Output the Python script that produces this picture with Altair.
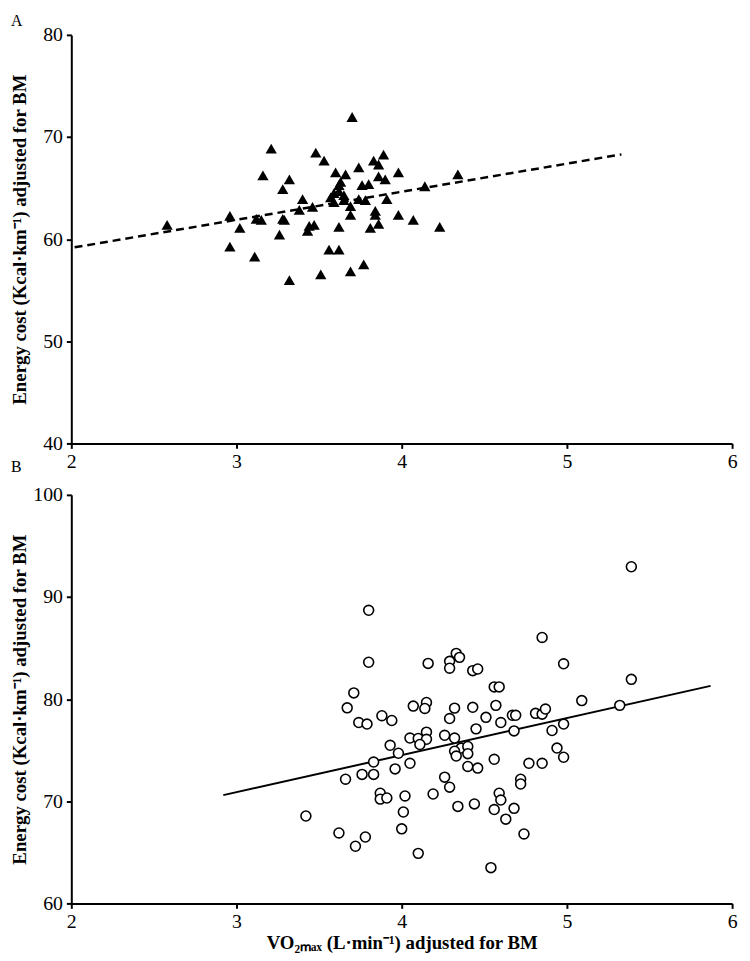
import altair as alt
import pandas as pd

# Panel A data (triangles)
a_x = [3.21, 3.16, 3.32, 3.28, 3.48, 3.53, 3.60, 3.66, 3.62, 3.62, 3.57, 3.40, 3.46, 3.38,
       2.96, 3.12, 3.15, 3.28, 3.29, 3.02, 3.44, 3.47, 3.43, 3.26, 2.96, 3.11, 3.56, 3.62,
       3.51, 3.32, 3.70, 3.74, 3.83, 3.89, 3.86, 3.98, 3.86, 3.90, 3.76, 3.80, 3.65, 3.59,
       3.69, 3.74, 3.78, 3.91, 3.69, 3.84, 3.84, 4.34, 4.14, 3.98, 4.07, 3.62, 3.81, 3.86,
       4.23, 3.77, 3.69, 2.58, 3.63, 3.59, 3.65]
a_y = [68.86, 66.25, 65.86, 64.89, 68.47, 67.70, 66.54, 66.34, 65.28, 64.70, 64.10, 63.92,
       63.15, 62.86, 62.28, 61.99, 61.89, 61.99, 61.89, 61.11, 61.31, 61.40, 60.82, 60.44,
       59.27, 58.30, 58.98, 58.98, 56.56, 55.98, 71.96, 67.02, 67.70, 68.28, 67.31, 66.54,
       66.15, 65.86, 65.28, 65.38, 63.83, 63.63, 63.24, 63.92, 63.83, 63.92, 62.37, 62.76,
       62.37, 66.34, 65.18, 62.37, 61.89, 61.21, 61.11, 61.50, 61.21, 57.53, 56.85, 61.40,
       65.60, 64.50, 64.30]
a_line_x = [2.02, 5.33]
a_line_y = [59.2, 68.3]

# Panel B data (open circles)
b_x = [3.80, 3.80, 4.16, 4.29, 4.29, 4.33, 4.35, 3.71, 3.67, 3.74, 3.79, 3.88, 3.94, 4.07,
       4.15, 4.14, 4.32, 4.29, 3.93, 3.98, 4.05, 4.10, 4.15, 4.15, 4.11, 4.26, 4.32, 4.36,
       4.32, 4.33, 3.83, 3.83, 3.76, 3.66, 3.96, 4.05, 4.26, 4.29, 3.87, 3.87, 3.91, 4.02,
       4.19, 4.34, 4.01,
       5.39, 4.85, 4.98, 5.39, 4.43, 4.46, 4.56, 4.59, 5.09, 5.32, 4.43, 4.57, 4.51, 4.60,
       4.67, 4.69, 4.81, 4.85, 4.87, 4.98, 4.91, 4.68, 4.45, 4.40, 4.40, 4.40, 4.46, 4.56,
       4.94, 4.98, 4.77, 4.85, 4.72, 4.72, 4.59, 4.60, 4.56, 4.68, 4.63, 4.44,
       3.42, 3.62, 3.72, 3.78, 4.00, 4.10, 4.54, 4.74]
b_y = [88.70, 83.61, 83.50, 83.70, 83.03, 84.48, 84.09, 80.61, 79.15, 77.71, 77.56, 78.38,
       77.91, 79.32, 79.67, 79.09, 79.12, 78.10, 75.48, 74.70, 76.19, 76.15, 76.77, 76.07,
       75.56, 76.46, 76.19, 75.21, 74.90, 74.43, 73.84, 72.63, 72.63, 72.16, 73.17, 73.72,
       72.36, 71.38, 70.79, 70.21, 70.32, 70.52, 70.71, 69.50, 68.95,
       92.96, 86.04, 83.46, 81.94, 82.79, 82.95, 81.20, 81.20, 79.86, 79.39, 79.20, 79.39,
       78.22, 77.71, 78.42, 78.42, 78.61, 78.53, 79.03, 77.56, 76.93, 76.89, 77.09, 75.37,
       74.66, 73.41, 73.25, 74.11, 75.21, 74.31, 73.72, 73.72, 72.16, 71.69, 70.79, 70.12,
       69.19, 69.31, 68.25, 69.74,
       68.56, 66.90, 65.60, 66.50, 67.30, 64.90, 63.50, 66.80]
b_line_x = [2.92, 5.87]
b_line_y = [70.6, 81.3]

x_ticks = [2, 3, 4, 5, 6]
a_y_ticks = [40, 50, 60, 70, 80]
b_y_ticks = [60, 70, 80, 90, 100]
panel_labels = ["A", "B"]

y_title = "Energy cost (Kcal·km⁻¹) adjusted for BM"
x_title = "VO₂ₘₐₓ (L·min⁻¹) adjusted for BM"

df_a = pd.DataFrame({"x": a_x, "y": a_y})
df_a_line = pd.DataFrame({"x": a_line_x, "y": a_line_y})
df_b = pd.DataFrame({"x": b_x, "y": b_y})
df_b_line = pd.DataFrame({"x": b_line_x, "y": b_line_y})
df_lab_b = pd.DataFrame({"t": [panel_labels[1]]})

W = 668
H = 413
FONT = "Liberation Serif"


def yaxis(ticks):
    return alt.Axis(values=ticks, title=y_title, minExtent=38, maxExtent=38,
                    titlePadding=4, labelPadding=4)


# Panel A
xa = alt.X("x:Q", scale=alt.Scale(domain=[2, 6], nice=False),
           axis=alt.Axis(values=x_ticks, title=None, labelPadding=3, labelFlush=False))
ya = alt.Y("y:Q", scale=alt.Scale(domain=[40, 80], nice=False), axis=yaxis(a_y_ticks))

pts_a = alt.Chart(df_a).mark_point(shape="triangle-up", filled=True, color="black",
                                   size=130, opacity=1).encode(x=xa, y=ya)
line_a = alt.Chart(df_a_line).mark_line(color="black", strokeWidth=2.5,
                                        strokeDash=[8, 5]).encode(x=xa, y=ya)
lab_b = alt.Chart(df_lab_b).mark_text(font=FONT, fontSize=16, color="black",
                                      align="left", baseline="middle").encode(
    text="t:N", x=alt.value(-61), y=alt.value(H + 24))
chart_a = alt.layer(line_a, pts_a, lab_b).properties(
    width=W, height=H,
    title=alt.TitleParams(panel_labels[0], anchor="start", frame="bounds", fontSize=16,
                          font=FONT, fontWeight="normal", offset=-4))

# Panel B
xb = alt.X("x:Q", scale=alt.Scale(domain=[2, 6], nice=False),
           axis=alt.Axis(values=x_ticks, title=x_title, labelPadding=3, titlePadding=3,
                         labelFlush=False))
yb = alt.Y("y:Q", scale=alt.Scale(domain=[60, 100], nice=False), axis=yaxis(b_y_ticks))

pts_b = alt.Chart(df_b).mark_point(shape="circle", filled=False, color="black",
                                   size=100, strokeWidth=1.6, opacity=1,
                                   fill="white", fillOpacity=1).encode(x=xb, y=yb)
line_b = alt.Chart(df_b_line).mark_line(color="black", strokeWidth=2).encode(x=xb, y=yb)
chart_b = alt.layer(line_b, pts_b).properties(width=W, height=H)

chart = alt.vconcat(chart_a, chart_b, spacing=10).properties(
    padding={"left": 3, "top": 0, "right": 5, "bottom": 0}
).configure_view(stroke=None).configure_axis(
    grid=False, domainColor="black", domainWidth=2, tickColor="black", tickWidth=2,
    tickSize=5, labelFont=FONT, labelFontSize=20, labelColor="black",
    titleFont=FONT, titleFontSize=19, titleFontWeight="bold", titleColor="black"
)

chart.save("out.html", embed_options={"renderer": "svg", "actions": False})
